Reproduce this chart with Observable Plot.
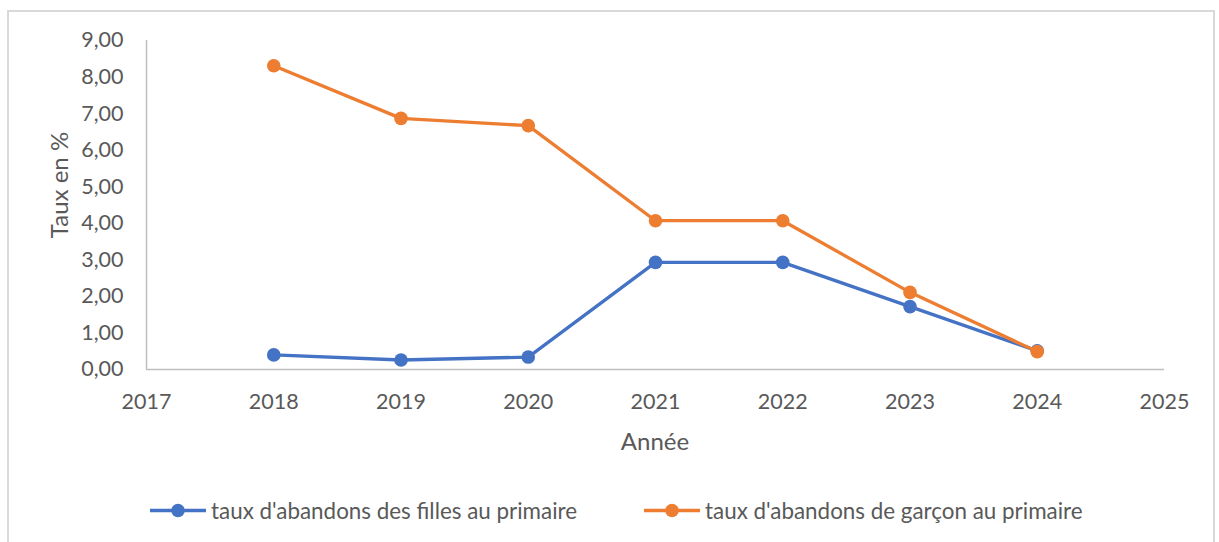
<!DOCTYPE html>
<html>
<head>
<meta charset="utf-8">
<script src="https://cdn.jsdelivr.net/npm/d3@7"></script>
<script src="https://cdn.jsdelivr.net/npm/@observablehq/plot@0.6"></script>
<style>
  html, body { margin: 0; padding: 0; background: #fff; }
  #wrap { position: relative; width: 1219px; height: 542px; overflow: hidden; font-family: Lato, "Open Sans", sans-serif; color: #595959; }
  #frame { position: absolute; left: 7px; top: 10px; width: 1208px; height: 560px; border: 2px solid #d9d9d9; box-sizing: border-box; }
  #chart { position: absolute; left: 0; top: 0; }
  .lbl { position: absolute; font-size: 24px; white-space: nowrap; }
  #ylab { left: 58px; top: 185px; transform: translate(-50%, -50%) rotate(-90deg); }
  #xlab { left: 655px; top: 440px; transform: translate(-50%, -50%); }
  .leg { position: absolute; top: 510px; display: flex; align-items: center; font-size: 22.4px; transform: translateY(-50%); }
  .leg svg { margin-right: 5px; }
</style>
</head>
<body>
<div id="wrap">
  <div id="frame"></div>
  <div id="chart"></div>
  <div class="lbl" id="ylab">Taux en %</div>
  <div class="lbl" id="xlab">Année</div>
  <div id="legend"></div>
</div>
<script>
const years = [2018, 2019, 2020, 2021, 2022, 2023, 2024];
const filles = [0.40, 0.26, 0.34, 2.93, 2.93, 1.72, 0.51];
const garcons = [8.31, 6.87, 6.67, 4.07, 4.07, 2.11, 0.49];
const seriesNames = ["taux d'abandons des filles au primaire", "taux d'abandons de garçon au primaire"];
const seriesColors = ["#4472C4", "#ED7D31"];
const xTicks = [2017, 2018, 2019, 2020, 2021, 2022, 2023, 2024, 2025];
const yTicks = [0, 1, 2, 3, 4, 5, 6, 7, 8, 9];

const dataF = years.map((y, i) => ({year: y, value: filles[i], series: seriesNames[0]}));
const dataG = years.map((y, i) => ({year: y, value: garcons[i], series: seriesNames[1]}));

const chart = Plot.plot({
  width: 1219,
  height: 460,
  marginLeft: 146,
  marginRight: 55,
  marginTop: 40,
  marginBottom: 91,
  style: {fontFamily: "Lato, 'Open Sans', sans-serif", fontSize: "21.5px", color: "#595959", background: "transparent", overflow: "visible"},
  x: {domain: [2017, 2025], ticks: xTicks, tickFormat: d => String(d), tickSize: 0, tickPadding: 24, label: null},
  y: {domain: [0, 9], ticks: yTicks, tickFormat: d => d.toFixed(2).replace(".", ","), tickSize: 0, tickPadding: 23, label: null},
  color: {domain: seriesNames, range: seriesColors},
  marks: [
    Plot.ruleX([2017], {stroke: "#bfbfbf", strokeWidth: 1.5}),
    Plot.ruleY([0], {stroke: "#bfbfbf", strokeWidth: 1.5}),
    Plot.line(dataF, {x: "year", y: "value", stroke: "series", strokeWidth: 3.3}),
    Plot.dot(dataF, {x: "year", y: "value", fill: "series", r: 6.8}),
    Plot.line(dataG, {x: "year", y: "value", stroke: "series", strokeWidth: 3.3}),
    Plot.dot(dataG, {x: "year", y: "value", fill: "series", r: 6.8})
  ]
});
document.getElementById("chart").appendChild(chart);

const legendX = [150, 644];
const legend = document.getElementById("legend");
seriesNames.forEach((name, i) => {
  const d = document.createElement("div");
  d.className = "leg";
  d.style.left = legendX[i] + "px";
  d.innerHTML = `<svg width="56" height="16"><line x1="0" y1="8" x2="56" y2="8" stroke="${seriesColors[i]}" stroke-width="3.3"/><circle cx="28" cy="8" r="6.8" fill="${seriesColors[i]}"/></svg><span>${name}</span>`;
  legend.appendChild(d);
});
</script>
</body>
</html>
